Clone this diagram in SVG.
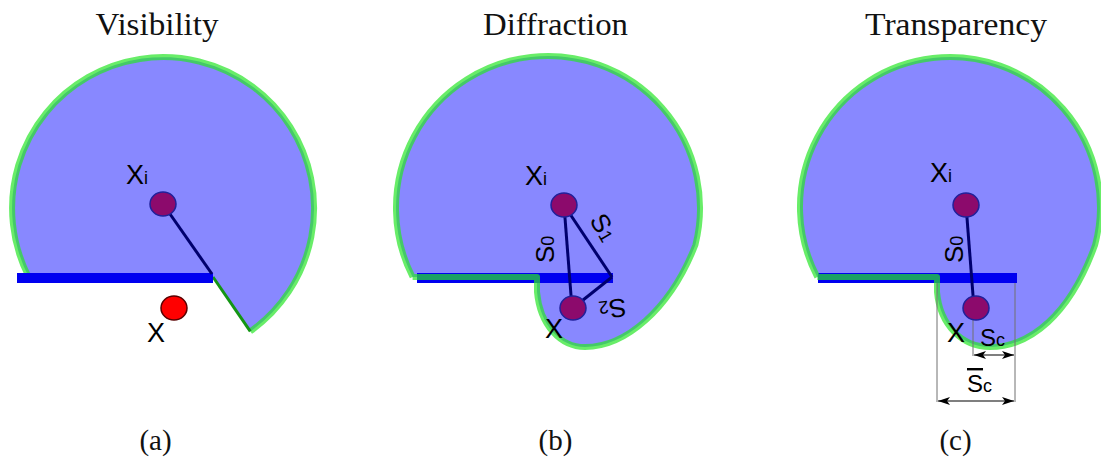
<svg xmlns="http://www.w3.org/2000/svg" width="1101" height="459" viewBox="0 0 1101 459">
<defs>
<style>
.title{font-family:"Liberation Serif","Times New Roman",serif;font-size:32px;fill:#111;text-anchor:middle}
.cap{font-family:"Liberation Serif","Times New Roman",serif;font-size:29px;fill:#111;text-anchor:middle}
.lbl{font-family:"Liberation Sans",Arial,sans-serif;font-size:27px;fill:#000}
.sl{font-family:"Liberation Sans",Arial,sans-serif;font-size:26px;fill:#000}
.sc{font-family:"Liberation Sans",Arial,sans-serif;font-size:24px;fill:#000}
.sub{font-size:18px}
.region{fill:#8888ff;stroke:none}
.edge{fill:none;stroke:rgb(40,230,40);stroke-opacity:0.7;stroke-width:6;stroke-linejoin:round}
.rayedge{fill:none;stroke:rgb(20,150,20);stroke-width:3}
.wall{fill:#0000f0}
.node{fill:#8c0a6c;stroke:#20209a;stroke-width:1.5}
.xnode{fill:#ff0000;stroke:#5a0000;stroke-width:1.5}
.ray{stroke:#00006e;stroke-width:3;fill:none}
.dim{stroke:#707070;stroke-width:1;fill:none}
.arr{stroke:#000;stroke-width:1.2;fill:none;marker-start:url(#ah);marker-end:url(#ah)}
</style>
<marker id="ah" viewBox="0 0 12 8" refX="12" refY="4" markerWidth="12" markerHeight="8" markerUnits="userSpaceOnUse" orient="auto-start-reverse"><path d="M0,0 L12,4 L0,8 L3,4 Z" fill="#000"/></marker>
</defs>

<g id="titles">
<text class="title" x="157" y="35" textLength="123" lengthAdjust="spacingAndGlyphs">Visibility</text>
<text class="title" x="555.5" y="35" textLength="145" lengthAdjust="spacingAndGlyphs">Diffraction</text>
<text class="title" x="956" y="35" textLength="182" lengthAdjust="spacingAndGlyphs">Transparency</text>
</g>

<!-- Panel (a) -->
<g id="region-a">
<path class="region" d="M28.7,277 L213,277 L250.3,331.4 A151,151 0 1 0 28.7,277 Z"/>
<path class="edge" d="M250.3,331.4 A151,151 0 1 0 28.7,277"/>
<path class="rayedge" d="M213,277 L250.3,331.4"/>
</g>
<g id="wall-a"><rect class="wall" x="17" y="273" width="196" height="10"/></g>

<!-- Panel (b) -->
<g id="region-b">
<path class="region" d="M412.6,277 L537,277 L537,292 C540,325 560,347 585,347 C625,347 670,310 695.4,245 A152,152 0 1 0 412.6,277 Z"/>
</g>
<g id="wall-b"><rect class="wall" x="417" y="273" width="196" height="10"/></g>
<g id="edge-b"><path class="edge" d="M412.6,277 L537,277 L537,292 C540,325 560,347 585,347 C625,347 670,310 695.4,245 A152,152 0 1 0 412.6,277"/></g>

<!-- Panel (c) -->
<g id="region-c">
<path class="region" d="M817.3,277 L937,277 L937,292 C940,325 962,347 990,347 C1030,347 1070,315 1095.1,245 A150,150 0 1 0 817.3,277 Z"/>
</g>
<g id="wall-c"><rect class="wall" x="818" y="273" width="199" height="10"/></g>
<g id="edge-c"><path class="edge" d="M817.3,277 L937,277 L937,292 C940,325 962,347 990,347 C1030,347 1070,315 1095.1,245 A150,150 0 1 0 817.3,277"/></g>

<g id="connectors">
<line class="ray" x1="163" y1="204" x2="212" y2="274"/>
<line class="ray" x1="564" y1="205" x2="572" y2="308"/>
<line class="ray" x1="564" y1="205" x2="612" y2="277"/>
<line class="ray" x1="573" y1="308" x2="612" y2="277"/>
<line class="ray" x1="966" y1="205" x2="974" y2="308"/>
</g>

<g id="dimensions">
<line class="dim" x1="937" y1="283" x2="937" y2="402"/>
<line class="dim" x1="1015" y1="283" x2="1015" y2="402"/>
<line class="dim" x1="973" y1="310" x2="973" y2="356"/>
<line class="arr" x1="974" y1="355" x2="1014" y2="355"/>
<line class="arr" x1="938" y1="401" x2="1014" y2="401"/>
</g>

<g id="node-xi-a"><ellipse class="node" cx="163" cy="204" rx="13" ry="12"/><text class="lbl" x="126" y="184">X<tspan class="sub">i</tspan></text></g>
<g id="node-x-a"><ellipse class="xnode" cx="174" cy="308" rx="13" ry="12"/><text class="lbl" x="147" y="342">X</text></g>

<g id="node-xi-b"><ellipse class="node" cx="564" cy="205" rx="13" ry="12"/><text class="lbl" x="525" y="185">X<tspan class="sub">i</tspan></text></g>
<g id="node-x-b"><ellipse class="node" cx="573" cy="308" rx="13" ry="12"/><text class="lbl" x="545" y="338">X</text></g>

<g id="node-xi-c"><ellipse class="node" cx="966" cy="205" rx="13" ry="12"/><text class="lbl" x="930" y="182">X<tspan class="sub">i</tspan></text></g>
<g id="node-x-c"><ellipse class="node" cx="976" cy="308" rx="13" ry="12"/><text class="lbl" x="947" y="342">X</text></g>

<g id="labels">
<text class="sl" transform="translate(554,263) rotate(-90)">S<tspan class="sub">0</tspan></text>
<text class="sl" transform="translate(589,220) rotate(60)">S<tspan class="sub">1</tspan></text>
<text class="sl" transform="translate(625,298) rotate(172)">S<tspan class="sub">2</tspan></text>
<text class="sl" transform="translate(963,263) rotate(-90)">S<tspan class="sub">0</tspan></text>
<text class="sc" x="980" y="346">S<tspan class="sub">c</tspan></text>
<text class="sc" x="967" y="392"><tspan text-decoration="overline">S</tspan><tspan class="sub">c</tspan></text>
</g>

<g id="captions">
<text class="cap" x="155.5" y="450">(a)</text>
<text class="cap" x="555.5" y="450">(b)</text>
<text class="cap" x="955.5" y="450">(c)</text>
</g>
</svg>
